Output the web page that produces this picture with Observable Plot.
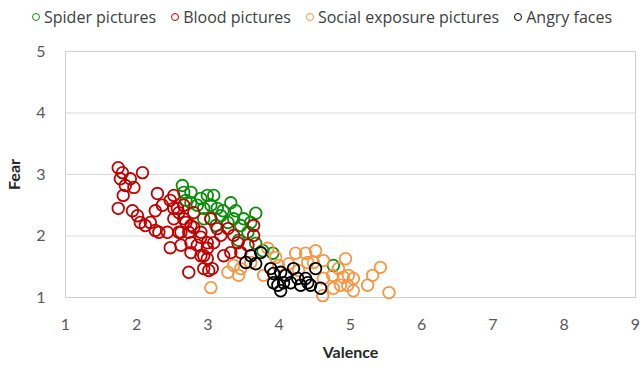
<!DOCTYPE html>
<html>
<head>
<meta charset="utf-8">
<script src="https://cdn.jsdelivr.net/npm/d3@7"></script>
<script src="https://cdn.jsdelivr.net/npm/@observablehq/plot@0.6"></script>
<style>
  body { margin: 0; background: #fff; font-family: Lato, "Open Sans", sans-serif; }
  #wrap { width: 643px; height: 366px; position: relative; }
  #legend { height: 34px; display: flex; align-items: center; padding-left: 32px; gap: 15px; font-family: "Open Sans", sans-serif; font-size: 16px; color: #404040; box-sizing: border-box; white-space: nowrap; }
  .item { display: flex; align-items: center; gap: 4px; }
  .mk { width: 8px; height: 8px; border-radius: 50%; border: 1.5px solid; box-sizing: border-box; }
  svg [aria-label="x-axis label"] text, svg [aria-label="y-axis label"] text { font-weight: bold; fill: #262626; font-size: 16px; }
</style>
</head>
<body>
<div id="wrap">
  <div id="legend"></div>
  <div id="chart"></div>
</div>
<script>
const seriesNames = ["Spider pictures", "Blood pictures", "Social exposure pictures", "Angry faces"];
const seriesColors = ["#0B8C0B", "#C00000", "#F79646", "#000000"];
const xTicks = [1, 2, 3, 4, 5, 6, 7, 8, 9];
const yTicks = [1, 2, 3, 4, 5];

// [valence, fear]
const spider = [
  [2.64,2.82],[2.66,2.71],[2.76,2.71],[2.90,2.61],[2.99,2.66],[3.08,2.66],[2.85,2.50],[2.94,2.45],
  [3.04,2.50],[3.13,2.45],[3.18,2.33],[3.32,2.54],[3.39,2.41],[3.36,2.28],[3.28,2.22],[3.46,2.17],
  [3.56,2.06],[3.67,2.37],[3.04,2.28],[2.94,2.28],[2.76,2.54],[3.50,2.28],[3.60,2.22],[3.77,1.76],
  [3.91,1.72],[4.76,1.52],[3.11,2.17],[3.21,2.41],[2.69,2.58],[3.43,1.93],[3.67,1.88]
];
const blood = [
  [1.74,3.11],[1.80,3.03],[2.08,3.03],[1.77,2.93],[1.91,2.93],[1.84,2.82],[1.96,2.79],[1.81,2.66],
  [1.74,2.45],[1.94,2.41],[2.01,2.33],[2.05,2.22],[2.12,2.17],[2.29,2.69],[2.26,2.41],[2.19,2.22],
  [2.26,2.09],[2.31,2.06],[2.43,2.06],[2.36,2.50],[2.47,2.58],[2.52,2.45],[2.59,2.38],[2.47,1.81],
  [2.62,1.85],[2.69,2.22],[2.62,2.06],[2.73,2.06],[2.76,1.73],[2.90,1.68],[2.85,1.85],[2.99,1.63],
  [2.73,1.41],[2.94,1.47],[2.76,2.17],[2.90,2.06],[2.99,1.80],[3.01,1.44],[2.52,2.66],[2.57,2.45],
  [2.66,2.28],[2.52,2.28],[2.59,2.06],[2.80,2.14],[2.76,1.89],[2.90,1.98],[2.99,1.89],[3.08,1.89],
  [3.18,2.01],[3.13,2.12],[3.28,2.12],[3.36,2.01],[3.42,1.89],[3.22,1.68],[3.06,1.47],[2.94,1.68],
  [3.04,2.28],[2.66,2.50],[2.80,2.38],[3.64,2.17],[3.64,2.01],[3.56,1.85],[3.46,1.73],[3.32,1.73]
];
const social = [
  [4.51,1.76],[4.93,1.63],[4.83,1.47],[4.97,1.36],[5.04,1.31],[4.96,1.20],[5.04,1.11],[5.24,1.20],
  [5.31,1.36],[5.42,1.49],[5.54,1.08],[4.86,1.20],[4.75,1.36],[4.62,1.31],[4.76,1.15],[4.40,1.57],
  [4.62,1.60],[4.90,1.33],[4.23,1.72],[4.48,1.57],[4.13,1.55],[3.78,1.36],[3.43,1.36],[3.36,1.52],
  [3.95,1.65],[3.46,1.47],[3.84,1.80],[4.37,1.72],[3.99,1.52],[3.28,1.41],[3.04,1.16],[3.60,1.57],
  [4.61,1.03],[4.27,1.44]
];
const angry = [
  [3.53,1.57],[3.74,1.73],[3.67,1.55],[3.60,1.68],[3.92,1.39],[4.02,1.41],[4.06,1.24],[3.98,1.20],
  [4.02,1.11],[4.09,1.36],[4.16,1.24],[4.26,1.31],[4.30,1.20],[4.40,1.24],[4.44,1.20],[4.51,1.47],
  [4.58,1.15],[4.20,1.47],[3.92,1.24],[3.88,1.47],[4.37,1.31]
];

const allSeries = [spider, blood, social, angry];
const data = allSeries.flatMap((arr, i) => arr.map(([v, f]) => ({valence: v, fear: f, series: seriesNames[i]})));

const legend = document.getElementById("legend");
seriesNames.forEach((n, i) => {
  const it = document.createElement("div");
  it.className = "item";
  const mk = document.createElement("span");
  mk.className = "mk";
  mk.style.borderColor = seriesColors[i];
  const t = document.createElement("span");
  t.textContent = n;
  it.append(mk, t);
  legend.append(it);
});

const chart = Plot.plot({
  width: 643,
  height: 332,
  marginTop: 17,
  marginBottom: 69,
  marginLeft: 65,
  marginRight: 8,
  style: { fontFamily: "Lato, 'Open Sans', sans-serif", fontSize: "16px", color: "#595959", background: "#fff" },
  x: { domain: [1, 9], ticks: xTicks, label: "Valence" },
  y: { domain: [1, 5], ticks: yTicks, label: "Fear" },
  color: { domain: seriesNames, range: seriesColors },
  marks: [
    Plot.gridY(yTicks, { stroke: "#D9D9D9", strokeOpacity: 1, strokeWidth: 1 }),
    Plot.frame({ stroke: "#D0D0D0", strokeWidth: 1 }),
    Plot.axisX({ ticks: xTicks, tickFormat: "d", tickSize: 0, tickPadding: 21, label: "Valence", labelAnchor: "center", labelArrow: "none", labelOffset: 60 }),
    Plot.axisY({ ticks: yTicks, tickFormat: "d", tickSize: 0, tickPadding: 20, label: "Fear", labelAnchor: "center", labelArrow: "none", labelOffset: 57 }),
    Plot.dot(data, { x: "valence", y: "fear", stroke: "series", fill: "none", r: 5.8, strokeWidth: 1.8 })
  ]
});
document.getElementById("chart").append(chart);
</script>
</body>
</html>
